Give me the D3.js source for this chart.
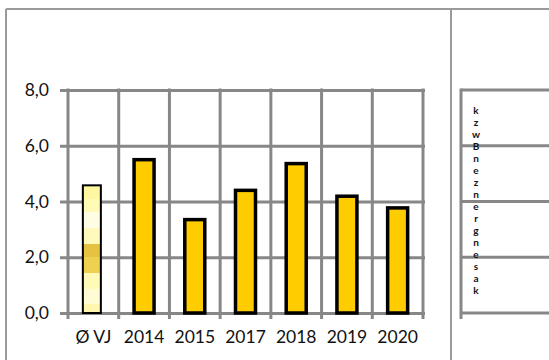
<!DOCTYPE html>
<html><head><meta charset="utf-8">
<script src="https://cdn.jsdelivr.net/npm/d3@7"></script>
<style>
html,body{margin:0;padding:0;background:#fff;}
svg{display:block;}
text{font-family:Lato,"Open Sans",sans-serif;fill:#111;}
</style></head>
<body>
<svg id="chart" width="549" height="360"></svg>
<script>
const categories = ["Ø VJ", "2014", "2015", "2017", "2018", "2019", "2020"];
const values = [4.58, 5.5, 3.35, 4.4, 5.36, 4.19, 3.77];
const yTicks = [0, 2, 4, 6, 8];
const yTickLabels = ["0,0", "2,0", "4,0", "6,0", "8,0"];
const legendLetters = ["k","z","w","B","n","e","z","n","e","r","g","n","e","s","a","k"];

const svg = d3.select("#chart");
const gridColor = "#878787";

// outer frame
svg.append("line").attr("x1",6).attr("x2",549).attr("y1",9).attr("y2",9).attr("stroke","#9a9a9a").attr("stroke-width",2);
svg.append("line").attr("x1",6).attr("x2",6).attr("y1",9).attr("y2",360).attr("stroke","#9a9a9a").attr("stroke-width",2);
svg.append("line").attr("x1",451).attr("x2",451).attr("y1",9).attr("y2",360).attr("stroke","#9a9a9a").attr("stroke-width",2);

const x = d3.scaleBand().domain(categories).range([68, 423]).paddingInner(0).paddingOuter(0);
const y = d3.scaleLinear().domain([0, 8]).range([313, 90]);

// horizontal gridlines + y labels
const yAxis = d3.axisLeft(y).tickValues(yTicks)
  .tickFormat((d,i)=>yTickLabels[i])
  .tickSize(-(425-60)).tickPadding(11);
const gy = svg.append("g").attr("transform","translate(60,0)").call(yAxis);
gy.select(".domain").remove();
gy.selectAll(".tick line").attr("stroke",gridColor).attr("stroke-width",3);
gy.selectAll(".tick text").attr("font-size","17.5px").attr("font-family","Lato,sans-serif").attr("fill","#111");

// vertical gridlines
const bounds = categories.map(c => x(c)).concat([x.range()[1]]);
svg.append("g").selectAll("line").data(bounds).join("line")
  .attr("x1",d=>d).attr("x2",d=>d).attr("y1",y(8)-1.5).attr("y2",319)
  .attr("stroke",gridColor).attr("stroke-width",3);

// gradient for first bar
const defs = svg.append("defs");
const grad = defs.append("linearGradient").attr("id","vjGrad").attr("x1",0).attr("y1",0).attr("x2",0).attr("y2",1);
const bands = [
  [0.00,0.105,"#fff7a0"],
  [0.105,0.21,"#fffab4"],
  [0.21,0.333,"#fffde4"],
  [0.333,0.459,"#fff9bc"],
  [0.459,0.565,"#e6c243"],
  [0.565,0.683,"#efd152"],
  [0.683,0.813,"#fffab8"],
  [0.813,0.931,"#fffcd4"],
  [0.931,1.0,"#fff7ae"]
];
bands.forEach(b=>{
  grad.append("stop").attr("offset",b[0]).attr("stop-color",b[2]);
  grad.append("stop").attr("offset",b[1]).attr("stop-color",b[2]);
});

// bars
const barW = 20;
svg.append("g").selectAll("rect").data(values).join("rect")
  .attr("x",(d,i)=> x(categories[i]) + x.bandwidth()/2 - (i===0 ? 10.5 : barW/2))
  .attr("y",d=>y(d))
  .attr("width",(d,i)=> i===0 ? 18 : barW)
  .attr("height",d=>y(0)-y(d))
  .attr("fill",(d,i)=> i===0 ? "url(#vjGrad)" : "#ffcc00")
  .attr("stroke","#000")
  .attr("stroke-width",(d,i)=> i===0 ? 2 : 3.5);

// x axis labels
const xAxis = d3.axisBottom(x).tickSize(0).tickPadding(18);
const gx = svg.append("g").attr("transform",`translate(0,${y(0)})`).call(xAxis);
gx.select(".domain").remove();
gx.selectAll(".tick text").attr("font-size","17.5px").attr("font-family","Lato,sans-serif").attr("fill","#111");

// legend panel grid
const lg = svg.append("g");
lg.selectAll("line.h").data(yTicks).join("line").attr("class","h")
  .attr("x1",461).attr("x2",549).attr("y1",d=>y(d)).attr("y2",d=>y(d))
  .attr("stroke",gridColor).attr("stroke-width",3);
lg.append("line").attr("x1",461).attr("x2",461).attr("y1",y(8)-1.5).attr("y2",319)
  .attr("stroke",gridColor).attr("stroke-width",3);

// legend stacked letters
const ls = d3.scaleLinear().domain([0, legendLetters.length-1]).range([114, 294]);
lg.selectAll("text").data(legendLetters).join("text")
  .attr("x",476).attr("y",(d,i)=>ls(i))
  .attr("text-anchor","middle")
  .attr("font-size","10px")
  .attr("font-weight","bold")
  .attr("fill","#111")
  .text(d=>d);
</script>
</body></html>
